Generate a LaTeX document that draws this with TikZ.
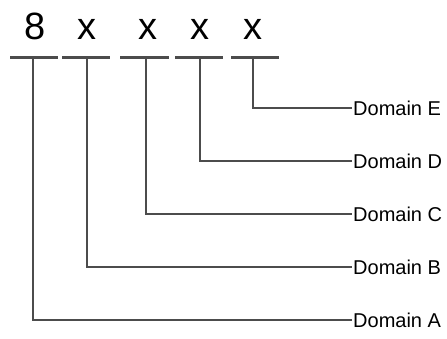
\documentclass[tikz,border=0pt]{standalone}
\usepackage{fontspec}
\setmainfont{Liberation Sans}
\usetikzlibrary{positioning}
\tikzstyle{digit} = [anchor=base, inner sep=0pt, font=\fontsize{38}{40}\selectfont]
\tikzstyle{dom} = [anchor=west, inner sep=1pt, font=\fontsize{20}{22}\selectfont]
\tikzstyle{bar} = [line width=3pt, draw=black!70]
\tikzstyle{conn} = [line width=1.6pt, draw=black!70]

\begin{document}
\begin{tikzpicture}[x=1pt,y=-1pt]
\useasboundingbox (0,0) rectangle (447,338);

% the code digits
\node[digit, name=d1] at (35,39) {8};
\node[digit, name=d2] at (87,39) {x};
\node[digit, name=d3] at (148,39) {x};
\node[digit, name=d4] at (200,39) {x};
\node[digit, name=d5] at (253,39) {x};

% underlines
\draw[bar] (10,57) -- (58,57);
\draw[bar] (62,57) -- (110,57);
\draw[bar] (120,57) -- (169,57);
\draw[bar] (175,57) -- (223,57);
\draw[bar] (231,57) -- (279,57);

\coordinate (u1) at (33,57);
\coordinate (u2) at (87,57);
\coordinate (u3) at (146,57);
\coordinate (u4) at (200,57);
\coordinate (u5) at (253,57);

% domain labels
\node[dom, name=domE] at (352,108) {Domain E};
\node[dom, name=domD] at (352,161) {Domain D};
\node[dom, name=domC] at (352,214) {Domain C};
\node[dom, name=domB] at (352,267) {Domain B};
\node[dom, name=domA] at (352,320) {Domain A};

\draw[conn] (u5) |- (domE.west);
\draw[conn] (u4) |- (domD.west);
\draw[conn] (u3) |- (domC.west);
\draw[conn] (u2) |- (domB.west);
\draw[conn] (u1) |- (domA.west);

\end{tikzpicture}
\end{document}
